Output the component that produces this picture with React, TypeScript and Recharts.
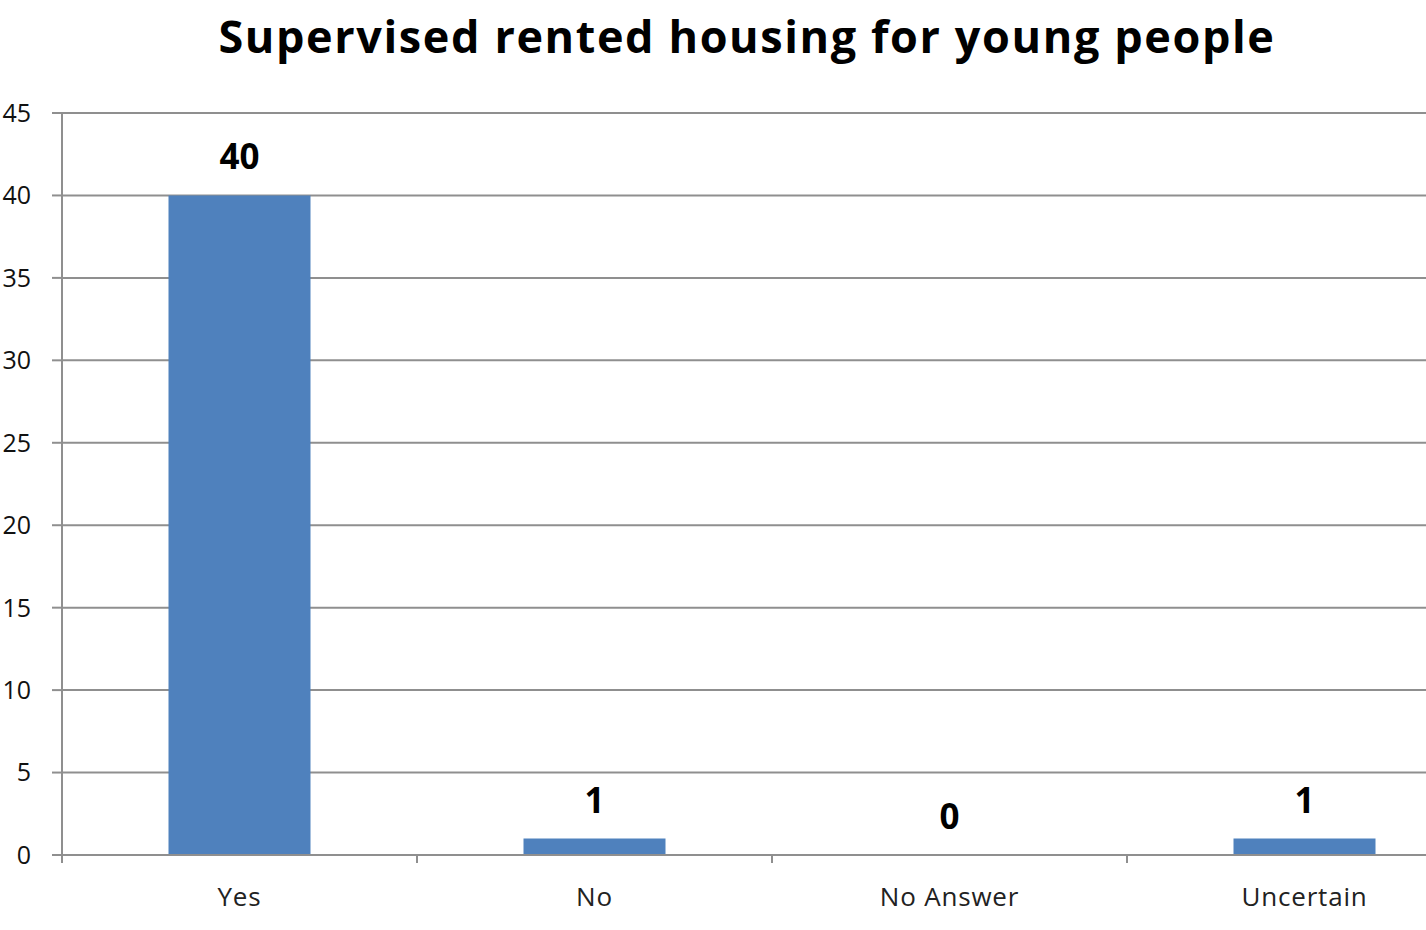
import React from "react";
import { ComposedChart, Bar, Line, XAxis, YAxis, CartesianGrid, LabelList } from "recharts";

const categories = ["Yes", "No", "No Answer", "Uncertain"];
const values = [40, 1, 0, 1];
const yTicks = [0, 5, 10, 15, 20, 25, 30, 35, 40, 45];
const title = "Supervised rented housing for young people";

const data = categories.map((c, i) => ({ name: c, value: values[i], label: String(values[i]) }));

const FONT = "'Open Sans', 'Noto Sans', sans-serif";
const GRID = "#8f8f8f";
const X_TICK_MARGIN = 33;

function CategoryTick(props: any) {
  const { x, y, payload } = props;
  const half = payload && payload.offset ? payload.offset : 0;
  const axisY = y - X_TICK_MARGIN;
  return (
    <g>
      <line x1={x - half} x2={x - half} y1={axisY} y2={axisY + 8} stroke={GRID} strokeWidth={2} />
      <text
        x={x}
        y={y}
        dy="0.71em"
        textAnchor="middle"
        fontFamily={FONT}
        fontSize={26}
        letterSpacing={0.8}
        fill="#222"
      >
        {payload.value}
      </text>
    </g>
  );
}

export default function App() {
  return (
    <div style={{ position: "absolute", left: 0, top: 0, width: 1426, height: 930, overflow: "hidden", background: "#fff" }}>
      <svg width={1426} height={80} style={{ position: "absolute", left: 0, top: 0 }}>
        <text x={747} y={53} textAnchor="middle" fontFamily={FONT} fontWeight={700} fontSize={45} letterSpacing={1.6} fill="#000">
          {title}
        </text>
      </svg>
      <div style={{ position: "absolute", left: 0, top: 0 }}>
        <ComposedChart
          width={1500}
          height={930}
          data={data}
          margin={{ top: 113, right: 18, bottom: 0, left: 0 }}
          barCategoryGap="30%"
        >
          <CartesianGrid vertical={false} stroke={GRID} strokeWidth={2} />
          <XAxis
            dataKey="name"
            type="category"
            tickLine={false}
            tickSize={0}
            tickMargin={X_TICK_MARGIN}
            axisLine={{ stroke: GRID, strokeWidth: 2 }}
            tick={<CategoryTick />}
            height={75}
            interval={0}
          />
          <YAxis
            domain={[0, 45]}
            ticks={yTicks}
            tickSize={10}
            tickMargin={21}
            width={62}
            axisLine={{ stroke: GRID, strokeWidth: 2 }}
            tickLine={{ stroke: GRID, strokeWidth: 2 }}
            tick={{ fontFamily: FONT, fontSize: 25, fill: "#111" }}
            interval={0}
          />
          <Bar dataKey="value" fill="#4f81bd" isAnimationActive={false} />
          <Line
            dataKey="value"
            stroke="none"
            dot={false}
            activeDot={false}
            isAnimationActive={false}
            legendType="none"
          >
            <LabelList
              dataKey="label"
              position="top"
              offset={26}
              style={{ fontFamily: FONT, fontSize: 35, fontWeight: 700, fill: "#000" }}
            />
          </Line>
        </ComposedChart>
      </div>
    </div>
  );
}
